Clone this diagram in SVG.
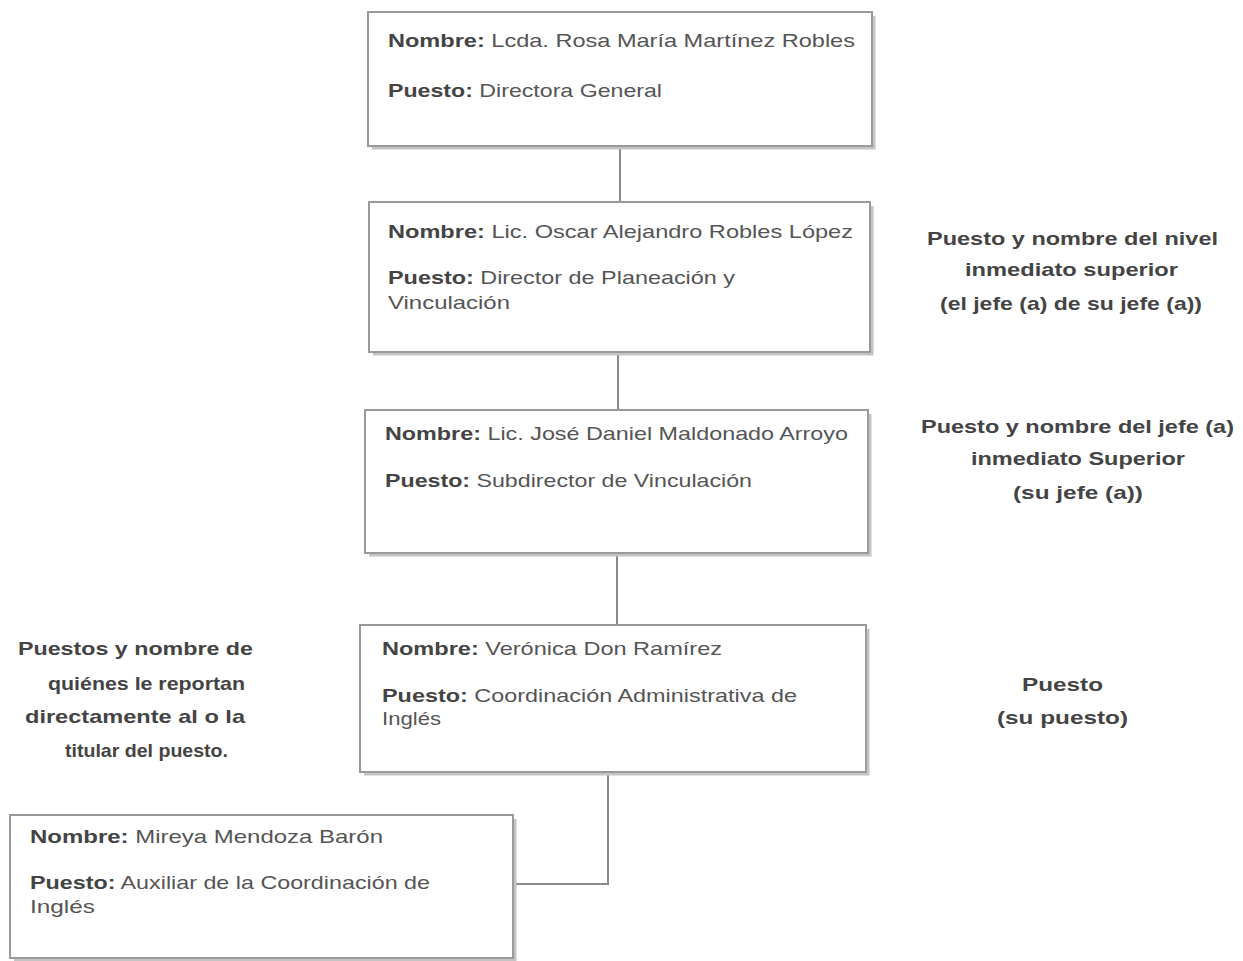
<svg xmlns="http://www.w3.org/2000/svg" width="1243" height="961" viewBox="0 0 1243 961">
<style>
.box{fill:#fff;stroke:#9a9a9a;stroke-width:2}
.sh{fill:none;stroke:#c4c4c4;stroke-width:3}
.t{font-family:"Liberation Sans",Arial,sans-serif;font-size:19px;fill:#555}
.b{font-weight:bold;fill:#444}
.n{font-family:"Liberation Sans",Arial,sans-serif;font-size:19px;fill:#444;font-weight:bold}
.c{fill:none;stroke:#8a8a8a;stroke-width:2}
</style>
<rect width="1243" height="961" fill="#fff"/>
<g id="connectors">
<line class="c" x1="620" y1="146" x2="620" y2="202"/>
<line class="c" x1="618" y1="352" x2="618" y2="410"/>
<line class="c" x1="617" y1="553" x2="617" y2="625"/>
<polyline class="c" points="608,772 608,884 513,884"/>
</g>
<g id="n1">
<polyline class="sh" points="372,148 874,148 874,16"/>
<rect class="box" x="368" y="12" width="504" height="134"/>
<text class="t" x="388" y="47" textLength="467" lengthAdjust="spacingAndGlyphs"><tspan class="b">Nombre:</tspan> Lcda. Rosa María Martínez Robles</text>
<text class="t" x="388" y="97" textLength="274" lengthAdjust="spacingAndGlyphs"><tspan class="b">Puesto:</tspan> Directora General</text>
</g>
<g id="n2">
<polyline class="sh" points="373,354 872,354 872,206"/>
<rect class="box" x="369" y="202" width="501" height="150"/>
<text class="t" x="388" y="238" textLength="465" lengthAdjust="spacingAndGlyphs"><tspan class="b">Nombre:</tspan> Lic. Oscar Alejandro Robles López</text>
<text class="t" x="388" y="284" textLength="347" lengthAdjust="spacingAndGlyphs"><tspan class="b">Puesto:</tspan> Director de Planeación y</text>
<text class="t" x="388" y="309" textLength="122" lengthAdjust="spacingAndGlyphs">Vinculación</text>
</g>
<g id="n3">
<polyline class="sh" points="369,555 870,555 870,414"/>
<rect class="box" x="365" y="410" width="503" height="143"/>
<text class="t" x="385" y="440" textLength="463" lengthAdjust="spacingAndGlyphs"><tspan class="b">Nombre:</tspan> Lic. José Daniel Maldonado Arroyo</text>
<text class="t" x="385" y="487" textLength="367" lengthAdjust="spacingAndGlyphs"><tspan class="b">Puesto:</tspan> Subdirector de Vinculación</text>
</g>
<g id="n4">
<polyline class="sh" points="364,774 868,774 868,629"/>
<rect class="box" x="360" y="625" width="506" height="147"/>
<text class="t" x="382" y="655" textLength="340" lengthAdjust="spacingAndGlyphs"><tspan class="b">Nombre:</tspan> Verónica Don Ramírez</text>
<text class="t" x="382" y="702" textLength="415" lengthAdjust="spacingAndGlyphs"><tspan class="b">Puesto:</tspan> Coordinación Administrativa de</text>
<text class="t" x="382" y="725" textLength="59" lengthAdjust="spacingAndGlyphs">Inglés</text>
</g>
<g id="n5">
<polyline class="sh" points="14,960 515,960 515,819"/>
<rect class="box" x="10" y="815" width="503" height="143"/>
<text class="t" x="30" y="843" textLength="353" lengthAdjust="spacingAndGlyphs"><tspan class="b">Nombre:</tspan> Mireya Mendoza Barón</text>
<text class="t" x="30" y="889" textLength="400" lengthAdjust="spacingAndGlyphs"><tspan class="b">Puesto:</tspan> Auxiliar de la Coordinación de</text>
<text class="t" x="30" y="913" textLength="65" lengthAdjust="spacingAndGlyphs">Inglés</text>
</g>
<g id="note1">
<text class="n" x="927" y="245" textLength="291" lengthAdjust="spacingAndGlyphs">Puesto y nombre del nivel</text>
<text class="n" x="965" y="276" textLength="213" lengthAdjust="spacingAndGlyphs">inmediato superior</text>
<text class="n" x="940" y="310" textLength="262" lengthAdjust="spacingAndGlyphs">(el jefe (a) de su jefe (a))</text>
</g>
<g id="note2">
<text class="n" x="921" y="433" textLength="313" lengthAdjust="spacingAndGlyphs">Puesto y nombre del jefe (a)</text>
<text class="n" x="971" y="465" textLength="214" lengthAdjust="spacingAndGlyphs">inmediato Superior</text>
<text class="n" x="1013" y="499" textLength="130" lengthAdjust="spacingAndGlyphs">(su jefe (a))</text>
</g>
<g id="note3">
<text class="n" x="1022" y="691" textLength="81" lengthAdjust="spacingAndGlyphs">Puesto</text>
<text class="n" x="997" y="724" textLength="131" lengthAdjust="spacingAndGlyphs">(su puesto)</text>
</g>
<g id="note4">
<text class="n" x="18" y="655" textLength="235" lengthAdjust="spacingAndGlyphs">Puestos y nombre de</text>
<text class="n" x="48" y="690" textLength="197" lengthAdjust="spacingAndGlyphs">quiénes le reportan</text>
<text class="n" x="25" y="723" textLength="220" lengthAdjust="spacingAndGlyphs">directamente al o la</text>
<text class="n" x="65" y="757" textLength="163" lengthAdjust="spacingAndGlyphs">titular del puesto.</text>
</g>
</svg>
